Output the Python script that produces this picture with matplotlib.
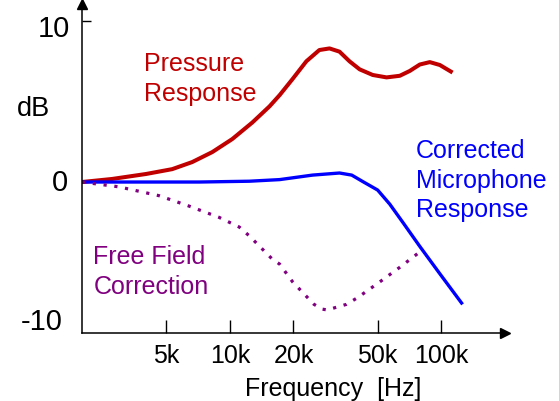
import matplotlib
matplotlib.use("Agg")
import matplotlib.pyplot as plt

plt.rcParams['font.family'] = ['Liberation Sans', 'DejaVu Sans']

# pressure response (red)
pressure_freq = [2000, 2775, 4020, 5340, 6640, 8260, 10270, 12780, 15400, 17200,
                 19800, 23000, 26500, 29600, 33000, 36800, 41100, 47400, 55100,
                 63600, 70900, 79100, 88200, 98400, 113000]
pressure_db = [0, 0.19, 0.5, 0.8, 1.24, 1.86, 2.67, 3.7, 4.7, 5.4,
               6.4, 7.5, 8.2, 8.3, 8.1, 7.5, 7.0, 6.65, 6.5,
               6.6, 6.9, 7.3, 7.45, 7.27, 6.8]

# corrected microphone response (blue)
corrected_freq = [2000, 7170, 12370, 17200, 24600, 33000, 37700, 42500, 50000,
                  57000, 65700, 79100, 98400, 126000]
corrected_db = [0, 0, 0.05, 0.15, 0.43, 0.56, 0.43, 0.03, -0.5,
                -1.37, -2.5, -4.0, -5.7, -7.6]

# free field correction (purple, dotted)
freefield_freq = [2000, 2990, 4630, 6430, 8910, 11090, 12370, 15900, 17200, 19800,
                  23000, 25000, 27400, 29000, 30600, 35600, 40000, 50000, 63600, 81700]
freefield_db = [0, -0.3, -0.85, -1.5, -2.2, -2.8, -3.35, -4.8, -5.1, -6.2,
                -7.1, -7.6, -7.9, -7.95, -7.85, -7.6, -7.2, -6.3, -5.3, -4.2]

xtick_vals = [5000, 10000, 20000, 50000, 100000]
xtick_labels = ['5k', '10k', '20k', '50k', '100k']

red = '#C00000'
blue = '#0000FF'
purple = '#800080'

fig = plt.figure(figsize=(5.59, 4.02), dpi=100)
ax = fig.add_axes([82 / 559, 68 / 402, 423 / 559, 329 / 402])

ax.plot(pressure_freq, pressure_db, color=red, lw=2.9,
        solid_joinstyle='round', solid_capstyle='butt')
ax.plot(corrected_freq, corrected_db, color=blue, lw=2.4,
        solid_joinstyle='round', solid_capstyle='butt')
ax.plot(freefield_freq, freefield_db, color=purple, lw=2.3, linestyle=(0, (1, 2.4)))

ax.set_xscale('log')
ax.set_xlim(2000, 200000)
ax.set_ylim(-9.38, 11.06)

ax.spines['top'].set_visible(False)
ax.spines['right'].set_visible(False)
ax.spines['left'].set_linewidth(1.1)
ax.spines['bottom'].set_linewidth(1.1)

# axis arrows
ax.plot(1, 0, '>k', ms=7, transform=ax.transAxes, clip_on=False)
ax.plot(0, 1, '^k', ms=7, transform=ax.transAxes, clip_on=False)

ax.set_xticks(xtick_vals)
ax.set_xticklabels(xtick_labels, fontsize=18)
ax.xaxis.set_minor_locator(matplotlib.ticker.NullLocator())
ax.tick_params(axis='x', direction='in', length=9.4, width=1, pad=7)

ax.set_yticks([10])
ax.set_yticklabels([])
ax.tick_params(axis='y', direction='in', length=6.5, width=1)

ytr = ax.get_yaxis_transform()
ax.text(-0.028, 9.57, '10', fontsize=21, ha='right', va='center', transform=ytr)
ax.text(-0.032, 0.0, '0', fontsize=21, ha='right', va='center', transform=ytr)
ax.text(-0.046, -8.63, '-10', fontsize=21, ha='right', va='center', transform=ytr)

fig.text(33 / 559, 1 - 109 / 402, 'dB', fontsize=19.5, ha='center', va='center')

ax.set_xlabel('Frequency  [Hz]', fontsize=18)
ax.xaxis.set_label_coords(0.593, -0.13)

ax.text(0.146, 0.857, 'Pressure\nResponse', color=red, fontsize=18, linespacing=1.3,
        ha='left', va='top', transform=ax.transAxes)
ax.text(0.790, 0.593, 'Corrected\nMicrophone\nResponse', color=blue, fontsize=18,
        linespacing=1.3, ha='left', va='top', transform=ax.transAxes)
ax.text(0.027, 0.270, 'Free Field\nCorrection', color=purple, fontsize=18,
        linespacing=1.3, ha='left', va='top', transform=ax.transAxes)

fig.savefig('out.png', dpi=100)
